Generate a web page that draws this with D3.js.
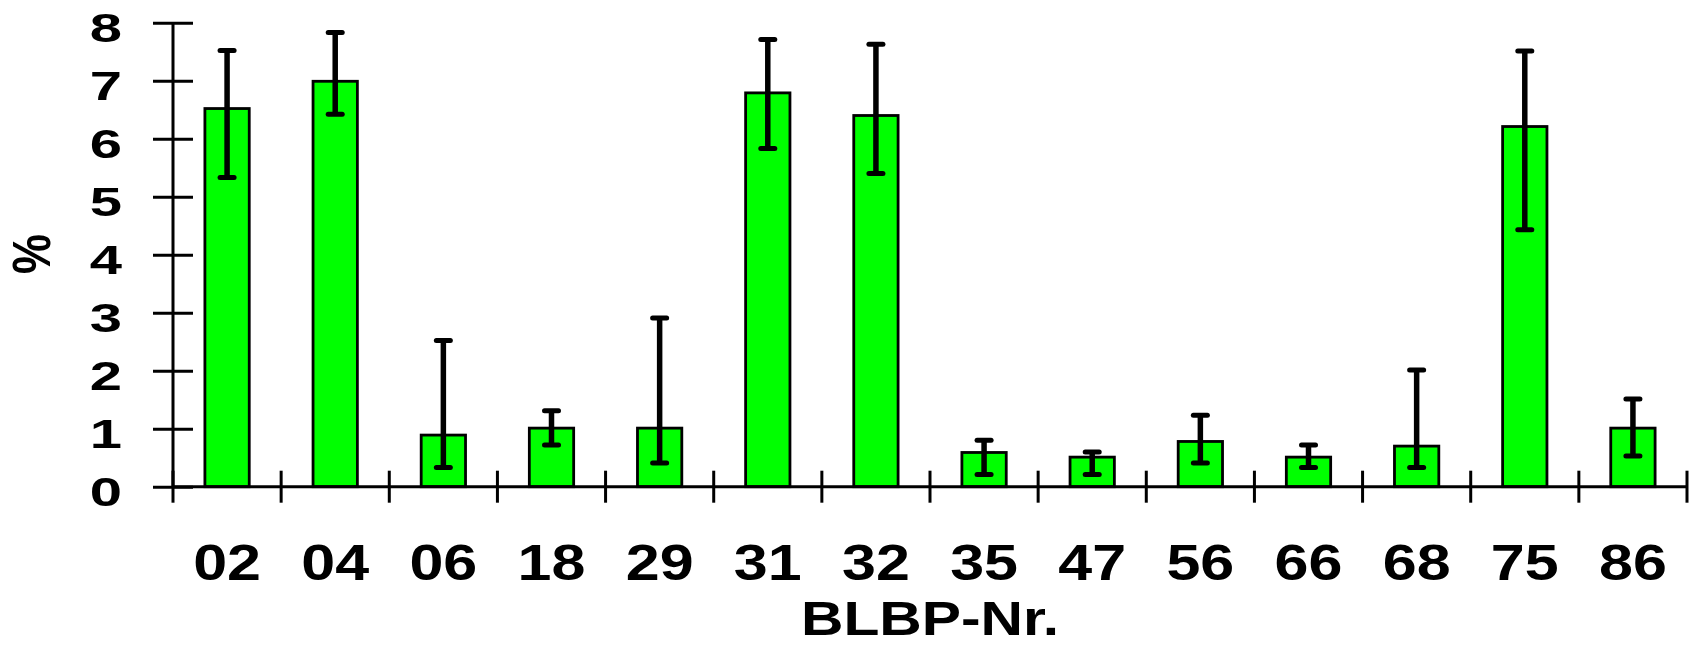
<!DOCTYPE html>
<html><head><meta charset="utf-8">
<script src="https://cdn.jsdelivr.net/npm/d3@7"></script>
<style>html,body{margin:0;padding:0;background:#fff;} svg{display:block;}</style>
</head><body>
<svg id="c" width="1693" height="645"></svg>
<script>
const categories = ["02","04","06","18","29","31","32","35","47","56","66","68","75","86"];
const values     = [6.52, 6.99, 0.89, 1.01, 1.01, 6.79, 6.40, 0.59, 0.51, 0.78, 0.51, 0.70, 6.21, 1.01];
const errUpper   = [7.52, 7.83, 2.52, 1.31, 2.91, 7.71, 7.63, 0.80, 0.60, 1.23, 0.72, 2.01, 7.51, 1.51];
const errLower   = [5.33, 6.42, 0.33, 0.72, 0.41, 5.83, 5.40, 0.21, 0.21, 0.41, 0.33, 0.33, 4.43, 0.53];
const yTicks     = [0,1,2,3,4,5,6,7,8];
const xTitle = "BLBP-Nr.";
const yTitle = "%";

(function(){
const svg = d3.select("#c");
const font = "'Liberation Sans', Arial, sans-serif";
const pLeft = 173, pRight = 1687, pTop = 22.7, pBottom = 486.7;

const x = d3.scaleBand().domain(categories).range([pLeft, pRight]).paddingInner(0.59).paddingOuter(0.295);
const y = d3.scaleLinear().domain([0, 8]).range([pBottom, pTop]);
const step = x.step();

const data = categories.map((c,i)=>({c, v: values[i], hi: errUpper[i], lo: errLower[i]}));

// bars
svg.append("g").selectAll("rect").data(data).join("rect")
  .attr("x", d=>x(d.c)).attr("y", d=>y(d.v))
  .attr("width", x.bandwidth()).attr("height", d=>y(0)-y(d.v))
  .attr("fill", "#00ff00").attr("stroke", "#000").attr("stroke-width", 2.8);

// error bars
const eb = svg.append("g").attr("stroke", "#000").attr("stroke-width", 5).attr("stroke-linecap", "round");
data.forEach(d=>{
  const cx = x(d.c) + x.bandwidth()/2;
  eb.append("line").attr("x1", cx).attr("x2", cx).attr("y1", y(d.hi)).attr("y2", y(d.lo)).attr("stroke-linecap","butt").attr("stroke-width", 5.5);
  eb.append("line").attr("x1", cx-7).attr("x2", cx+7).attr("y1", y(d.hi)).attr("y2", y(d.hi));
  eb.append("line").attr("x1", cx-7).attr("x2", cx+7).attr("y1", y(d.lo)).attr("y2", y(d.lo));
});

// y axis
const ya = svg.append("g").attr("transform", `translate(${pLeft},0)`)
  .call(d3.axisLeft(y).tickValues(yTicks).tickFormat(d3.format("d")).tickSizeOuter(0));
ya.select(".domain").attr("stroke-width", 3).attr("d", `M0,${y(0)}V${y(8)}`);
ya.selectAll(".tick line").attr("x1", 20).attr("x2", -20).attr("stroke-width", 3);
ya.selectAll(".tick text").attr("x", null).attr("dy", null)
  .attr("text-anchor", "end")
  .attr("transform", "translate(-51,19) scale(1.45,1)")
  .style("font-family", font).style("font-weight", "bold").style("font-size", "40px").attr("fill", "#000");

// x axis: line, boundary ticks, labels
const xa = svg.append("g").attr("transform", `translate(0,${pBottom})`)
  .call(d3.axisBottom(x).tickSize(0).tickSizeOuter(0));
xa.select(".domain").attr("stroke-width", 3).attr("d", `M${pLeft},0H${pRight}`);
xa.selectAll(".tick text").attr("y", null).attr("dy", null)
  .attr("text-anchor", "middle")
  .attr("transform", "translate(0,93) scale(1.22,1)")
  .style("font-family", font).style("font-weight", "bold").style("font-size", "50px").attr("fill", "#000");
const bounds = d3.range(categories.length + 1).map(i => pLeft + i*step);
xa.append("g").selectAll("line").data(bounds).join("line")
  .attr("x1", d=>d).attr("x2", d=>d).attr("y1", -16).attr("y2", 16)
  .attr("stroke", "#000").attr("stroke-width", 3);

// titles
svg.append("text").attr("text-anchor", "middle")
  .attr("transform", `translate(${(pLeft+pRight)/2},635) scale(1.2,1)`)
  .style("font-family", font).style("font-weight", "bold").style("font-size", "49px")
  .text(xTitle);
svg.append("text").attr("text-anchor", "middle")
  .attr("transform", `translate(50,254) scale(1.2,1) rotate(-90)`)
  .style("font-family", font).style("font-weight", "bold").style("font-size", "45px")
  .text(yTitle);
})();
</script>
</body></html>
